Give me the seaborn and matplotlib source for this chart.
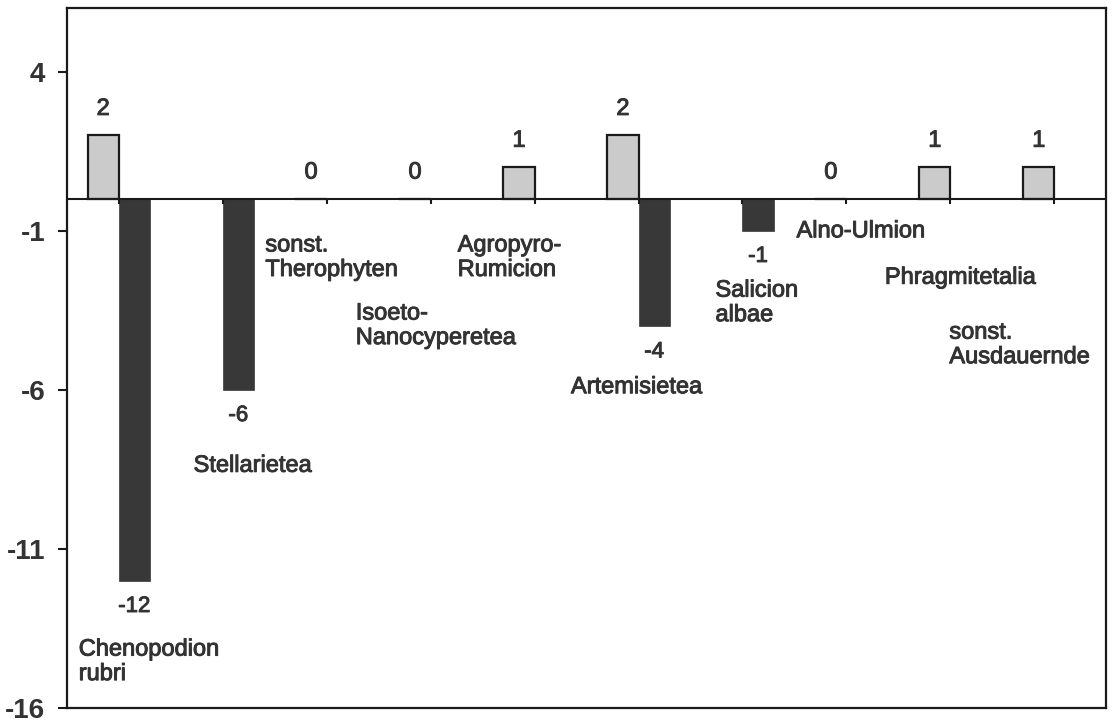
import numpy as np
import pandas as pd
import matplotlib
matplotlib.use("Agg")
import matplotlib.pyplot as plt
import matplotlib.patheffects as pe
import seaborn as sns


# Vegetation classes, one group of two bars each.
categories = [
    "Chenopodion\nrubri",
    "Stellarietea",
    "sonst.\nTherophyten",
    "Isoeto-\nNanocyperetea",
    "Agropyro-\nRumicion",
    "Artemisietea",
    "Salicion\nalbae",
    "Alno-Ulmion",
    "Phragmitetalia",
    "sonst.\nAusdauernde",
]
# None = no bar in that group
gains = [2, None, 0, 0, 1, 2, None, 0, 1, 1]
losses = [-12, -6, None, None, None, -4, -1, None, None, None]

y_ticks = [4, -1, -6, -11, -16]
y_limits = (-16, 6)

# Where each class name sits: x offset from the group centre and y in data units.
label_dx = [-0.385, -0.28, -0.59, -0.72, -0.74, -0.65, -0.26, -0.48, -0.63, -1.01]
label_y = [-14.55, -8.39, -1.85, -3.99, -1.85, -5.92, -3.27, -1.02, -2.48, -4.59]

TEXT_COLOR = "#333333"
# thicken the strokes a little, like the scanned original
HEAVY = [pe.withStroke(linewidth=0.7, foreground=TEXT_COLOR)]

sns.set_style("white")
plt.rcParams["font.family"] = ["Liberation Sans", "DejaVu Sans"]

df = pd.DataFrame({
    "category": categories * 2,
    "series": ["gain"] * len(categories) + ["loss"] * len(categories),
    "value": [np.nan if v is None else v for v in gains + losses],
})

fig = plt.figure(figsize=(11.13, 7.2), dpi=100)
ax = fig.add_axes([0.060, 0.0167, 0.934, 0.9723])

sns.barplot(
    data=df,
    x="category",
    y="value",
    hue="series",
    order=categories,
    hue_order=["gain", "loss"],
    palette={"gain": "#cbcbcb", "loss": "#383838"},
    width=0.6,
    dodge=True,
    errorbar=None,
    legend=False,
    ax=ax,
)

gain_bars, loss_bars = ax.containers[0], ax.containers[1]
for bar in gain_bars:
    bar.set_edgecolor("#1a1a1a")
    bar.set_linewidth(1.6)
for bar in loss_bars:
    bar.set_edgecolor("#383838")
    bar.set_linewidth(0.5)

for txt in ax.bar_label(gain_bars, fmt="{:.0f}", padding=11, fontsize=17, color=TEXT_COLOR):
    txt.set_path_effects(HEAVY)
for txt in ax.bar_label(loss_bars, fmt="{:.0f}", padding=11, fontsize=16, color=TEXT_COLOR):
    txt.set_path_effects(HEAVY)

# zero line with small group ticks hanging below it
ax.axhline(0, color="#1a1a1a", lw=1.5, zorder=3)
ax.vlines(np.arange(len(categories)), 0, -0.17, color="#1a1a1a", lw=1.5, zorder=3)

for i, name in enumerate(categories):
    ax.text(i + label_dx[i], label_y[i], name, ha="left", va="center",
            fontsize=17, color=TEXT_COLOR, linespacing=1.15, path_effects=HEAVY)

ax.set_xlim(-0.5, len(categories) - 0.5)
ax.set_ylim(*y_limits)
ax.set_yticks(y_ticks)
ax.set_yticklabels([str(t) for t in y_ticks])
ax.set_xlabel("")
ax.set_ylabel("")
ax.tick_params(axis="x", length=0, labelbottom=False)
ax.tick_params(axis="y", left=True, direction="out", length=6.5, width=1.5,
               pad=9, labelsize=20, labelcolor=TEXT_COLOR, color="#1a1a1a")
for label in ax.get_yticklabels():
    label.set_fontweight("bold")

for spine in ax.spines.values():
    spine.set_visible(True)
    spine.set_color("#1a1a1a")
    spine.set_linewidth(1.6)

fig.savefig("out.png", dpi=100)
